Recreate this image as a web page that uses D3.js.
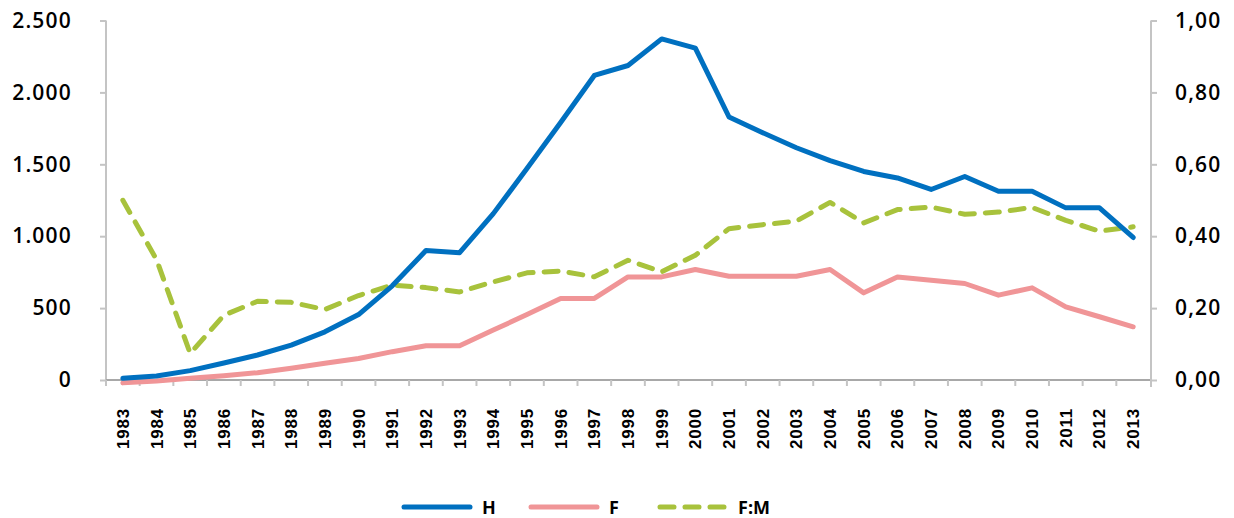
<!DOCTYPE html>
<html>
<head>
<meta charset="utf-8">
<script src="https://cdn.jsdelivr.net/npm/d3@7"></script>
<style>
  body { margin: 0; background: #fff; }
  svg { display: block; }
</style>
</head>
<body>
<svg width="1234" height="518"></svg>
<script>
var years = ["1983","1984","1985","1986","1987","1988","1989","1990","1991","1992",
             "1993","1994","1995","1996","1997","1998","1999","2000","2001","2002",
             "2003","2004","2005","2006","2007","2008","2009","2010","2011","2012","2013"];

var hValues = [12, 28, 65, 118, 174, 243, 335, 455, 655, 900,
               885, 1157, 1470, 1790, 2118, 2187, 2372, 2308, 1829, 1720,
               1615, 1525, 1450, 1405, 1325, 1415, 1312, 1312, 1197, 1197, 991];

var fValues = [-20, -7, 12, 30, 51, 81, 116, 150, 197, 238,
               238, 347, 455, 567, 567, 717, 717, 768, 722, 722,
               722, 768, 606, 717, 694, 671, 590, 641, 509, 440, 370];

var fmValues = [0.50, 0.335, 0.074, 0.18, 0.219, 0.216, 0.196, 0.235, 0.264, 0.257,
                0.245, 0.273, 0.298, 0.303, 0.287, 0.333, 0.301, 0.347, 0.421, 0.432,
                0.442, 0.494, 0.437, 0.474, 0.481, 0.461, 0.467, 0.480, 0.444, 0.414, 0.426];

var leftTicks = [0, 500, 1000, 1500, 2000, 2500];
var rightTicks = [0, 0.2, 0.4, 0.6, 0.8, 1.0];

var svg = d3.select("svg");

var locale = d3.formatLocale({decimal: ",", thousands: ".", grouping: [3], currency: ["", "€"]});
var fmtLeft = locale.format(",");
var fmtRight = locale.format(".2f");

var x = d3.scaleBand().domain(years).range([106, 1150]).padding(0);
var yL = d3.scaleLinear().domain([0, 2500]).range([380, 20.5]);
var yR = d3.scaleLinear().domain([0, 1]).range([380, 20.5]);

var axisGrey = "#c4c4c4";

// left axis
var gl = svg.append("g")
  .attr("transform", "translate(106,0)")
  .call(d3.axisLeft(yL).tickValues(leftTicks).tickSize(6).tickPadding(28).tickFormat(fmtLeft));

// right axis
var gr = svg.append("g")
  .attr("transform", "translate(1151,0)")
  .call(d3.axisRight(yR).tickValues(rightTicks).tickSize(6).tickPadding(18).tickFormat(fmtRight));

[gl, gr].forEach(function(g){
  g.select(".domain").attr("stroke", axisGrey).attr("stroke-width", 2);
  g.selectAll(".tick line").attr("stroke", axisGrey).attr("stroke-width", 2);
  g.selectAll(".tick text")
    .attr("fill", "#000")
    .style("font-family", "'Open Sans', sans-serif")
    .style("font-weight", "600")
    .style("font-size", "21px")
    .style("letter-spacing", "1.2px");
});
gl.select(".domain").attr("d", "M0,20.5V380");
gr.select(".domain").attr("d", "M0,20.5V387");

// bottom axis, ticks on band edges
var gb = svg.append("g");
gb.append("line")
  .attr("x1", 106).attr("x2", 1150)
  .attr("y1", 380).attr("y2", 380)
  .attr("stroke", "#a8a8a8").attr("stroke-width", 2);
gb.selectAll(".xt")
  .data(years)
  .enter()
  .append("line")
  .attr("class", "xt")
  .attr("x1", function(d){ return x(d); })
  .attr("x2", function(d){ return x(d); })
  .attr("y1", 380).attr("y2", 386)
  .attr("stroke", axisGrey).attr("stroke-width", 2);
gb.selectAll(".xl")
  .data(years)
  .enter()
  .append("text")
  .attr("class", "xl")
  .attr("transform", function(d){
    return "translate(" + (x(d) + x.bandwidth() / 2 + 6) + ",408) rotate(-90)";
  })
  .attr("text-anchor", "end")
  .style("font-family", "'Liberation Sans', Arial, sans-serif")
  .style("font-weight", "bold")
  .style("font-size", "17px")
  .style("letter-spacing", "0.8px")
  .attr("fill", "#000")
  .text(function(d){ return d; });

var cx = function(d, i){ return x(years[i]) + x.bandwidth() / 2; };

var lineH = d3.line().x(cx).y(function(d){ return yL(d); });
var lineF = d3.line().x(cx).y(function(d){ return yL(d); });
var lineFM = d3.line().x(cx).y(function(d){ return yR(d); });

svg.append("path")
  .datum(fValues)
  .attr("d", lineF)
  .attr("fill", "none")
  .attr("stroke", "#f09597")
  .attr("stroke-width", 5)
  .attr("stroke-linecap", "round")
  .attr("stroke-linejoin", "round");

svg.append("path")
  .datum(fmValues)
  .attr("d", lineFM)
  .attr("fill", "none")
  .attr("stroke", "#a8c23c")
  .attr("stroke-width", 5)
  .attr("stroke-dasharray", "14,11")
  .attr("stroke-linecap", "round")
  .attr("stroke-linejoin", "round");

svg.append("path")
  .datum(hValues)
  .attr("d", lineH)
  .attr("fill", "none")
  .attr("stroke", "#0070c0")
  .attr("stroke-width", 5)
  .attr("stroke-linecap", "round")
  .attr("stroke-linejoin", "round");

// legend
var legend = [
  {name: "H", color: "#0070c0", dash: null, x: 404},
  {name: "F", color: "#f09597", dash: null, x: 531},
  {name: "F:M", color: "#a8c23c", dash: "14,11", x: 660}
];
var lg = svg.selectAll(".lg")
  .data(legend)
  .enter()
  .append("g")
  .attr("class", "lg");
lg.append("line")
  .attr("x1", function(d){ return d.x; })
  .attr("x2", function(d){ return d.x + 66; })
  .attr("y1", 507).attr("y2", 507)
  .attr("stroke", function(d){ return d.color; })
  .attr("stroke-width", 5)
  .attr("stroke-linecap", "round")
  .attr("stroke-dasharray", function(d){ return d.dash; });
lg.append("text")
  .attr("x", function(d){ return d.x + 78; })
  .attr("y", 514)
  .style("font-family", "'Open Sans', sans-serif")
  .style("font-weight", "700")
  .style("font-size", "18px")
  .attr("fill", "#000")
  .text(function(d){ return d.name; });
</script>
</body>
</html>
